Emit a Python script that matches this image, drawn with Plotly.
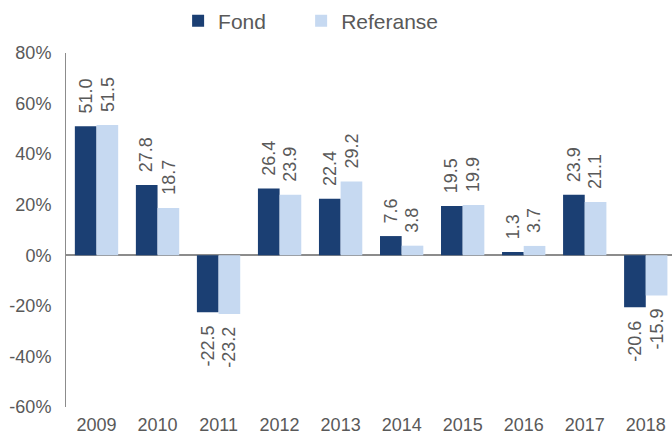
import plotly.graph_objects as go

years = ["2009", "2010", "2011", "2012", "2013", "2014", "2015", "2016", "2017", "2018"]
fond = [51.0, 27.8, -22.5, 26.4, 22.4, 7.6, 19.5, 1.3, 23.9, -20.6]
referanse = [51.5, 18.7, -23.2, 23.9, 29.2, 3.8, 19.9, 3.7, 21.1, -15.9]
series_names = ["Fond", "Referanse"]
y_ticks = [-60, -40, -20, 0, 20, 40, 60, 80]

DARK = "#1B3F73"
LIGHT = "#C6D9F1"
GRAY = "#595959"
FONT = "Liberation Sans, Arial, sans-serif"
BARGAP = 0.29

idx = list(range(len(years)))
fig = go.Figure()
fig.add_trace(go.Bar(x=idx, y=fond, name=series_names[0], legend="legend",
                     marker=dict(color=DARK, line=dict(width=0))))
fig.add_trace(go.Bar(x=idx, y=referanse, name=series_names[1], legend="legend2",
                     marker=dict(color=LIGHT, line=dict(width=0))))

w = (1 - BARGAP) / 2
annotations = []
for vals, off in ((fond, -w / 2), (referanse, w / 2)):
    for i, v in enumerate(vals):
        pos = v >= 0
        annotations.append(dict(
            x=i + off, y=v, xref="x", yref="y", text=f"{v:.1f}", showarrow=False,
            textangle=-90, xanchor="center", yanchor="bottom" if pos else "top",
            yshift=11 if pos else -11, font=dict(family=FONT, size=18, color=GRAY),
        ))

legend_common = dict(orientation="h", xanchor="left", y=1.09, yanchor="middle",
                     font=dict(family=FONT, size=21, color=GRAY), bgcolor="rgba(0,0,0,0)")

fig.update_layout(
    width=672, height=435,
    margin=dict(l=66, r=0, t=53, b=28, autoexpand=False),
    paper_bgcolor="white", plot_bgcolor="white",
    barmode="group", bargap=BARGAP, bargroupgap=0,
    font=dict(family=FONT, size=18, color=GRAY),
    showlegend=True,
    legend=dict(x=0.185, **legend_common),
    legend2=dict(x=0.388, **legend_common),
    annotations=annotations,
    xaxis=dict(range=[-0.5, 9.43], tickvals=idx, ticktext=years, showgrid=False,
               zeroline=False, showline=False, ticks="outside", ticklen=1, automargin=False,
               tickcolor="rgba(0,0,0,0)", tickfont=dict(size=18, color=GRAY)),
    yaxis=dict(range=[-60, 80], tickvals=y_ticks, ticktext=[f"{t}%" for t in y_ticks],
               showgrid=False, zeroline=True, zerolinecolor="#8C8C8C", zerolinewidth=1.5,
               showline=True, linecolor="#8C8C8C", linewidth=1, ticks="outside", ticklen=10,
               automargin=False,
               tickcolor="rgba(0,0,0,0)", tickfont=dict(size=18, color=GRAY)),
)

fig.write_html(
    "out.html",
    config={"displayModeBar": False},
    post_script="document.body.style.margin='0';document.body.style.overflow='hidden';",
)
